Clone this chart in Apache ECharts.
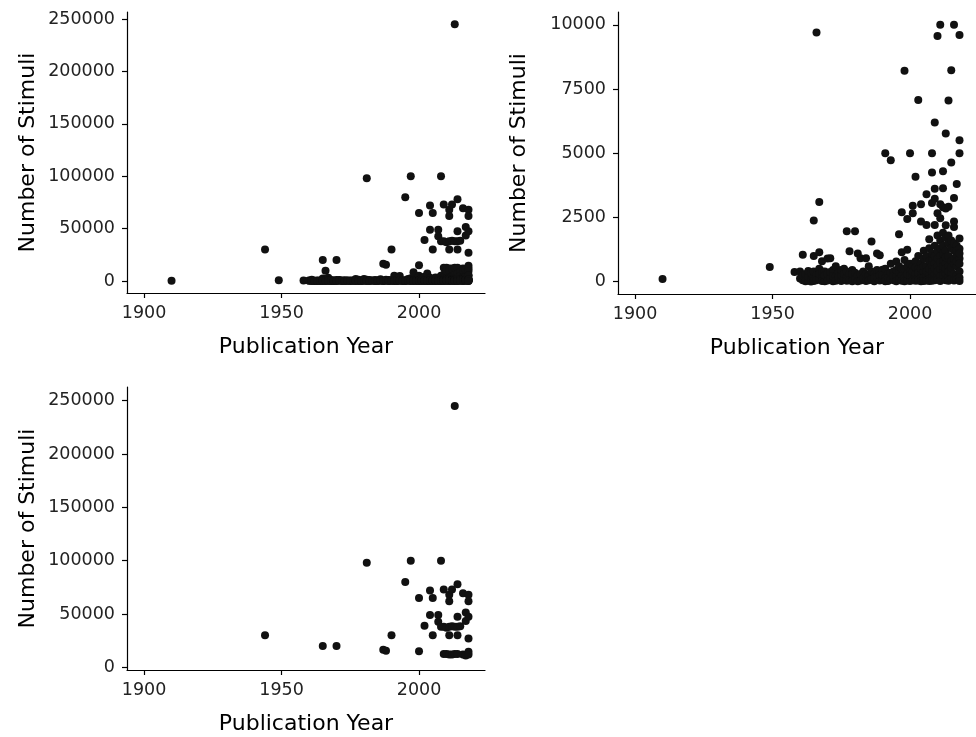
<!DOCTYPE html>
<html>
<head>
<meta charset="utf-8">
<script src="https://cdn.jsdelivr.net/npm/echarts@6/dist/echarts.min.js"></script>
<style>
html,body{margin:0;padding:0;background:#fff;}
#chart{width:976px;height:737px;}
</style>
</head>
<body>
<div id="chart"></div>
<script>
// [Publication Year, Number of Stimuli]
const early = [[1910,100],[1944,30000],[1949,570],[1958,380],[1960,400],[1960,120]];
const y1960s = [[1961,1050],[1961,60],[1961,250],[1962,120],[1962,300],[1962,20],[1963,40],[1963,200],[1963,420],
  [1964,80],[1964,350],[1964,10],[1965,1000],[1965,2380],[1965,20000],[1965,150],[1965,30],[1965,400],
  [1966,9700],[1966,260],[1966,60],[1967,3100],[1967,1150],[1967,500],[1967,100],[1967,300],
  [1968,800],[1968,200],[1968,30],[1968,400],[1969,120],[1969,400],[1969,20],[1969,250]];
const y1970s = [[1970,20000],[1970,900],[1970,50],[1970,300],[1971,910],[1971,150],[1971,380],[1972,450],[1972,20],[1972,220],
  [1973,200],[1973,600],[1973,40],[1974,80],[1974,350],[1974,180],[1975,30],[1975,250],[1975,450],[1976,500],[1976,100],[1976,300],
  [1977,1960],[1977,180],[1977,40],[1977,400],[1978,1180],[1978,300],[1978,60],[1979,150],[1979,450],[1979,20],[1979,300]];
const y1980s = [[1980,1960],[1980,100],[1980,350],[1981,98000],[1981,1100],[1981,250],[1981,20],[1982,910],[1982,50],[1982,300],
  [1983,400],[1983,150],[1984,910],[1984,30],[1984,300],[1985,250],[1985,600],[1985,60],[1986,1560],[1986,100],[1986,400],
  [1987,16500],[1987,300],[1987,20],[1987,150],[1988,15500],[1988,1100],[1988,180],[1988,450],[1989,1030],[1989,50],[1989,400],[1989,250]];
const y1990s = [[1990,30000],[1990,460],[1990,80],[1990,250],[1991,5000],[1991,500],[1991,150],[1991,20],[1992,300],[1992,30],[1992,150],
  [1993,4730],[1993,700],[1993,100],[1993,350],[1994,400],[1994,60],[1994,220],[1995,80000],[1995,790],[1995,200],[1995,20],[1995,450],
  [1996,1850],[1996,350],[1996,90],[1996,600],[1997,100000],[1997,2700],[1997,1150],[1997,250],[1997,40],[1997,500],
  [1998,8210],[1998,845],[1998,150],[1998,500],[1998,20],[1999,2440],[1999,1240],[1999,600],[1999,50],[1999,300]];
const y2000s = [[2000,65000],[2000,15000],[2000,5000],[2000,400],[2000,120],[2000,700],[2000,30],[2000,250],
  [2001,2960],[2001,2660],[2001,250],[2001,600],[2001,60],[2001,400],
  [2002,39000],[2002,4090],[2002,300],[2002,800],[2002,100],[2002,40],[2002,550],
  [2003,7070],[2003,200],[2003,500],[2003,1000],[2003,50],[2003,350],
  [2004,72000],[2004,49000],[2004,3010],[2004,2340],[2004,350],[2004,700],[2004,120],[2004,20],[2004,500],
  [2005,65000],[2005,30000],[2005,400],[2005,900],[2005,150],[2005,1200],[2005,30],[2005,600],
  [2006,3400],[2006,2210],[2006,600],[2006,250],[2006,50],[2006,1000],[2006,400],
  [2007,49000],[2007,42800],[2007,1650],[2007,300],[2007,800],[2007,100],[2007,1300],[2007,500],[2007,30],
  [2008,100000],[2008,38000],[2008,5000],[2008,4250],[2008,3060],[2008,900],[2008,400],[2008,150],[2008,1100],[2008,40],[2008,650],
  [2009,73000],[2009,38000],[2009,12500],[2009,6200],[2009,3620],[2009,3230],[2009,2210],[2009,1400],[2009,700],[2009,300],[2009,60],[2009,1000],[2009,500]];
const y2010s = [[2010,37000],[2010,12500],[2010,9570],[2010,2660],[2010,1800],[2010,1200],[2010,600],[2010,250],[2010,80],[2010,900],[2010,400],
  [2011,68000],[2011,62000],[2011,38000],[2011,30000],[2011,12000],[2011,10000],[2011,3010],[2011,2470],[2011,1600],[2011,1000],[2011,500],[2011,200],[2011,30],[2011,750],[2011,1300],
  [2012,73000],[2012,38500],[2012,12000],[2012,4300],[2012,3640],[2012,2900],[2012,1900],[2012,1400],[2012,800],[2012,400],[2012,100],[2012,1100],[2012,600],[2012,250],
  [2013,245000],[2013,38000],[2013,12500],[2013,5770],[2013,2850],[2013,2200],[2013,1700],[2013,1200],[2013,700],[2013,300],[2013,60],[2013,950],[2013,500],
  [2014,78000],[2014,47500],[2014,38000],[2014,30000],[2014,12500],[2014,7050],[2014,2920],[2014,1500],[2014,1000],[2014,600],[2014,200],[2014,1800],[2014,400],[2014,40],
  [2015,38500],[2015,8230],[2015,4640],[2015,1300],[2015,800],[2015,350],[2015,100],[2015,1600],[2015,550],
  [2016,69500],[2016,12000],[2016,10000],[2016,3260],[2016,2340],[2016,2130],[2016,1200],[2016,700],[2016,300],[2016,900],[2016,50],[2016,1500],
  [2017,51500],[2017,43500],[2017,11000],[2017,3800],[2017,1400],[2017,1000],[2017,600],[2017,250],[2017,800],[2017,80],[2017,1200],
  [2018,68000],[2018,62000],[2018,47500],[2018,27000],[2018,14500],[2018,12000],[2018,9600],[2018,5510],[2018,5000],[2018,1680],[2018,1280],[2018,900],[2018,700],[2018,400],[2018,150],[2018,1100],[2018,30]];

const xTicks = [1900, 1950, 2000];
const yTicksAll = [0, 50000, 100000, 150000, 200000, 250000];
const yTicksZoom = [0, 2500, 5000, 7500, 10000];
const zoomLimit = 10000;

const allPoints = [].concat(early, y1960s, y1970s, y1980s, y1990s, y2000s, y2010s);
const lowPoints = allPoints.filter(p => p[1] <= zoomLimit);
const highPoints = allPoints.filter(p => p[1] > zoomLimit);

const FONT = 'DejaVu Sans';
function xAxisCfg(gi){
  return {
    gridIndex: gi, type: 'value', min: 1893.8, max: 2024,
    name: 'Publication Year', nameLocation: 'middle', nameGap: 43,
    nameTextStyle: {fontFamily: FONT, fontSize: 22, color: '#000'},
    axisLine: {show: true, onZero: false, lineStyle: {color: '#000', width: 1.2}},
    axisTick: {show: true, length: 5, customValues: xTicks, lineStyle: {color: '#000', width: 1.2}},
    axisLabel: {customValues: xTicks, margin: 11, fontFamily: FONT, fontSize: 17.5, color: '#222', formatter: v => String(v)},
    splitLine: {show: false}
  };
}
function yAxisCfg(gi, min, max, ticks){
  return {
    gridIndex: gi, type: 'value', min: min, max: max,
    name: 'Number of Stimuli', nameLocation: 'middle', nameGap: 88,
    nameTextStyle: {fontFamily: FONT, fontSize: 22, color: '#000'},
    axisLine: {show: true, onZero: false, lineStyle: {color: '#000', width: 1.2}},
    axisTick: {show: true, length: 5, customValues: ticks, lineStyle: {color: '#000', width: 1.2}},
    axisLabel: {customValues: ticks, margin: 12, fontFamily: FONT, fontSize: 17.5, color: '#222', formatter: v => String(v)},
    splitLine: {show: false}
  };
}
function sc(i, data){
  return {type: 'scatter', xAxisIndex: i, yAxisIndex: i, data: data, symbolSize: 8,
    itemStyle: {color: '#111', opacity: 1}, silent: true};
}
const chart = echarts.init(document.getElementById('chart'), null, {renderer: 'canvas'});
chart.setOption({
  animation: false,
  backgroundColor: '#fff',
  grid: [
    {left: 127, top: 12, width: 358, height: 281},
    {left: 618, top: 12, width: 369, height: 282},
    {left: 127, top: 387, width: 358, height: 283}
  ],
  xAxis: [xAxisCfg(0), xAxisCfg(1), xAxisCfg(2)],
  yAxis: [
    yAxisCfg(0, -11500, 256800, yTicksAll),
    yAxisCfg(1, -480, 10500, yTicksZoom),
    yAxisCfg(2, -2500, 262800, yTicksAll)
  ],
  series: [sc(0, allPoints), sc(1, lowPoints), sc(2, highPoints)]
});
</script>
</body>
</html>
